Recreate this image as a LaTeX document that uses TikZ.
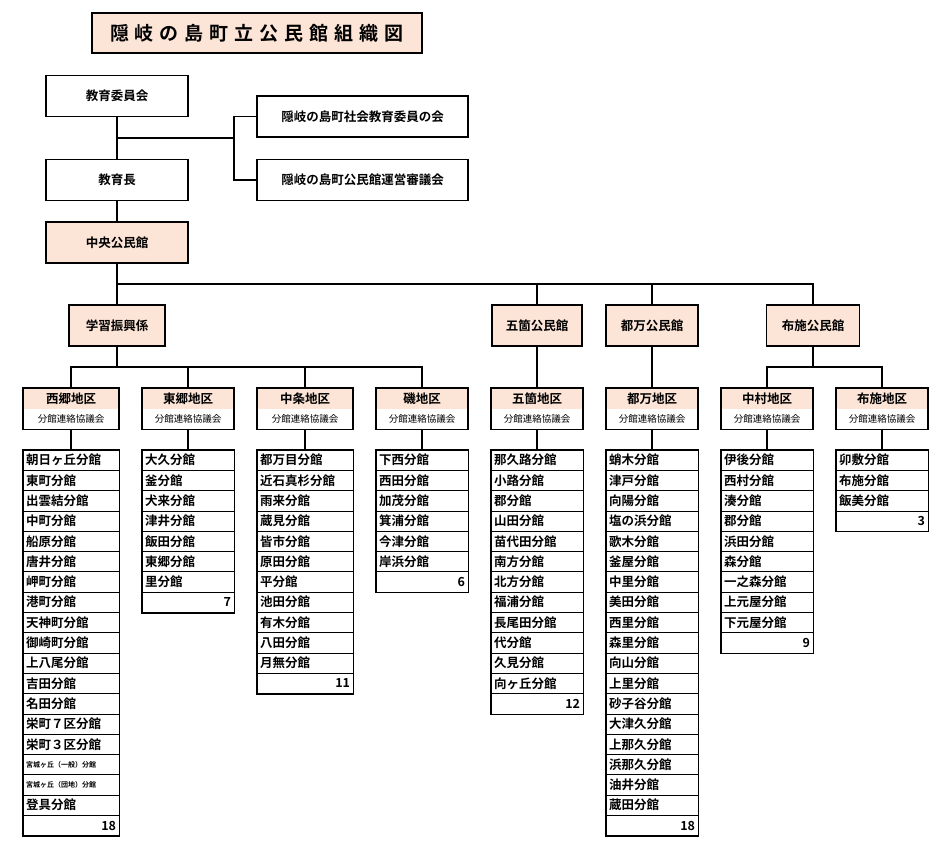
\documentclass[tikz,border=0pt]{standalone}
\usepackage{fontspec}
\setmainfont{Noto Sans CJK JP}[BoldFont={Noto Sans CJK JP Bold}]
\usetikzlibrary{positioning}
\definecolor{peach}{HTML}{FCE4D6}
\tikzset{
  box/.style={draw,line width=1.6pt,minimum width=142pt,minimum height=41pt,inner sep=0pt,font=\bfseries\fontsize{12.5}{12.5}\selectfont},
  pbox/.style={box,fill=peach},
  dtop/.style={fill=peach,minimum height=20.5pt,inner sep=0pt,font=\bfseries\fontsize{12.5}{12.5}\selectfont},
  dsub/.style={fill=white,minimum height=20.5pt,inner sep=0pt,font=\fontsize{9.5}{9.5}\selectfont},
  row/.style={draw,line width=0.8pt,minimum height=20.3pt,inner sep=0pt,font=\bfseries\fontsize{12.5}{12.5}\selectfont},
  link/.style={line width=1.6pt}
}
% list of branches below a district box
\newcommand\branchlist[5]{%
  \foreach \t [count=\i] in {#4} {
    \node[row,minimum width=#3pt] (#1-\i) at ({#2+#3/2},{450+(\i-0.5)*20.3}) {\makebox[\dimexpr#3pt-6pt\relax][l]{\t}};
  }
  \node[row,minimum width=#3pt] (#1-n) at ({#2+#3/2},{450+(#5+0.5)*20.3}) {\makebox[\dimexpr#3pt-6pt\relax][r]{#5}};
  \draw[line width=1.6pt] (#1-1.north west) rectangle (#1-n.south east);
}
% district box
\newcommand\district[4]{%
  \node[dtop,minimum width=#3pt] (#1) at ({#2+#3/2},398.25) {#4};
  \node[dsub,minimum width=#3pt,below=0pt of #1] (#1s) {分館連絡協議会};
  \draw[line width=1.6pt] (#1.north west) rectangle (#1s.south east);
  \draw[link] (#1s.south) -- (#1s.south |- 0,450);
}
\begin{document}
\begin{tikzpicture}[x=1pt,y=-1pt]
\useasboundingbox (0,0) rectangle (952,856);
\node[draw,line width=1.6pt,fill=peach,minimum width=330pt,minimum height=40pt,font=\bfseries\fontsize{19}{19}\selectfont] (title) at (257,33) {隠\hspace{6pt}岐\hspace{6pt}の\hspace{6pt}島\hspace{6pt}町\hspace{6pt}立\hspace{6pt}公\hspace{6pt}民\hspace{6pt}館\hspace{6pt}組\hspace{6pt}織\hspace{6pt}図};
\node[box] (iinkai) at (117,96) {教育委員会};
\node[box] (cho) at (117,180) {教育長};
\node[pbox] (chuo) at (117,242.5) {中央公民館};
\node[box,minimum width=211pt] (shakai) at (362.5,116.5) {隠岐の島町社会教育委員の会};
\node[box,minimum width=211pt] (shingi) at (362.5,180) {隠岐の島町公民館運営審議会};
\coordinate (j1) at (117,138);
\coordinate (j2) at (234,138);
\draw[link] (iinkai) -- (cho);
\draw[link] (j1) -- (j2);
\draw[link] (shakai.west) -| (j2) |- (shingi.west);
\draw[link] (cho) -- (chuo);
\node[pbox,minimum width=96pt] (gakushu) at (117,325.5) {学習振興係};
\node[pbox,minimum width=90pt] (goka) at (537,325.5) {五箇公民館};
\node[pbox,minimum width=92pt] (tsuma) at (652,325.5) {都万公民館};
\node[pbox,minimum width=93pt] (fuse) at (813,325.5) {布施公民館};
\coordinate (j3) at (117,284);
\draw[link] (chuo) -- (gakushu);
\draw[link] (j3) -- (fuse.north |- j3) -- (fuse.north);
\draw[link] (goka.north |- j3) -- (goka.north);
\draw[link] (tsuma.north |- j3) -- (tsuma.north);
% districts
\district{saigo}{23}{96}{西郷地区}
\district{togo}{142}{92}{東郷地区}
\district{chujo}{257}{96}{中条地区}
\district{iso}{376}{92}{磯地区}
\district{gokad}{491}{92}{五箇地区}
\district{tsumad}{606}{92}{都万地区}
\district{naka}{721}{92}{中村地区}
\district{fused}{836}{92}{布施地区}
\draw[link] (gakushu) -- (gakushu |- 0,367);
\draw[link] (saigo.north) |- (iso.north |- 0,367) -- (iso.north);
\draw[link] (togo.north) -- (togo.north |- 0,367);
\draw[link] (chujo.north) -- (chujo.north |- 0,367);
\draw[link] (goka) -- (gokad);
\draw[link] (tsuma) -- (tsumad);
\draw[link] (fuse) -- (fuse |- 0,367);
\draw[link] (naka.north) |- (fused.north |- 0,367) -- (fused.north);
% branch lists
\branchlist{saigol}{23}{96}{朝日ヶ丘分館,東町分館,出雲結分館,中町分館,船原分館,唐井分館,岬町分館,港町分館,天神町分館,御崎町分館,上八尾分館,吉田分館,名田分館,栄町７区分館,栄町３区分館,{\fontsize{7}{7}\selectfont 宮城ヶ丘（一般）分館},{\fontsize{7}{7}\selectfont 宮城ヶ丘（団地）分館},登具分館}{18}
\branchlist{togol}{142}{92}{大久分館,釜分館,犬来分館,津井分館,飯田分館,東郷分館,里分館}{7}
\branchlist{chujol}{257}{96}{都万目分館,近石真杉分館,雨来分館,蔵見分館,皆市分館,原田分館,平分館,池田分館,有木分館,八田分館,月無分館}{11}
\branchlist{isol}{376}{92}{下西分館,西田分館,加茂分館,箕浦分館,今津分館,岸浜分館}{6}
\branchlist{gokal}{491}{92}{那久路分館,小路分館,郡分館,山田分館,苗代田分館,南方分館,北方分館,福浦分館,長尾田分館,代分館,久見分館,向ヶ丘分館}{12}
\branchlist{tsumal}{606}{92}{蛸木分館,津戸分館,向陽分館,塩の浜分館,歌木分館,釜屋分館,中里分館,美田分館,西里分館,森里分館,向山分館,上里分館,砂子谷分館,大津久分館,上那久分館,浜那久分館,油井分館,蔵田分館}{18}
\branchlist{nakal}{721}{92}{伊後分館,西村分館,湊分館,郡分館,浜田分館,森分館,一之森分館,上元屋分館,下元屋分館}{9}
\branchlist{fusel}{836}{92}{卯敷分館,布施分館,飯美分館}{3}
\end{tikzpicture}
\end{document}
